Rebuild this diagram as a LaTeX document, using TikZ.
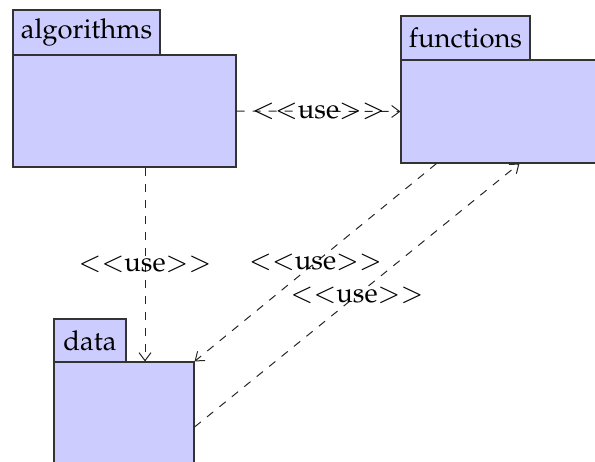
\documentclass[tikz,border=0pt]{standalone}
\usepackage[T1]{fontenc}
\usepackage{mathpazo}
\usetikzlibrary{arrows.meta,calc}
\begin{document}
\begin{tikzpicture}[x=1pt,y=-1pt,
  pkg/.style={draw=black!80, fill=blue!20, line width=1.1pt, inner sep=0pt},
  pkgtab/.style={pkg, font=\fontsize{27.4}{32}\selectfont},
  uselink/.style={draw=black!85, dash pattern=on 8pt off 8pt, line width=1pt,
                  -{Straight Barb[length=8pt,width=12pt]}},
  uselabel/.style={font=\fontsize{27.4}{32}\selectfont, inner sep=0pt}]
\useasboundingbox (0,0) rectangle (595,461);
\clip (0,0) rectangle (595,461);

% package bodies
\node[pkg, minimum width=223pt, minimum height=112pt] (algbody) at (124.5,111) {};
\node[pkg, minimum width=240pt, minimum height=103pt] (funbody) at (521,111.5) {};
\node[pkg, minimum width=140pt, minimum height=130pt] (datbody) at (124,427) {};

% package tabs with their names
\node[pkgtab, minimum width=147pt, minimum height=45pt] (algtab) at (86.5,32.5) {algorithms};
\node[pkgtab, minimum width=129pt, minimum height=44pt] (funtab) at (465.5,38) {functions};
\node[pkgtab, minimum width=72pt, minimum height=43pt] (dattab) at (90,340.5) {data};

% dependencies
\draw[uselink] (algbody.east) -- node[uselabel]{$<<$use$>>$} (funbody.west);
\draw[uselink] ($(algbody.south)+(20.5,0)$) -- node[uselabel]{$<<$use$>>$}
  ($(datbody.north)+(21,0)$);
\draw[uselink] ($(funbody.south west)+(36,0)$) -- node[uselabel]{$<<$use$>>$}
  (datbody.north east);
\draw[uselink] (datbody.east) -- node[uselabel]{$<<$use$>>$}
  ($(funbody.south west)+(119,0)$);
\end{tikzpicture}
\end{document}
